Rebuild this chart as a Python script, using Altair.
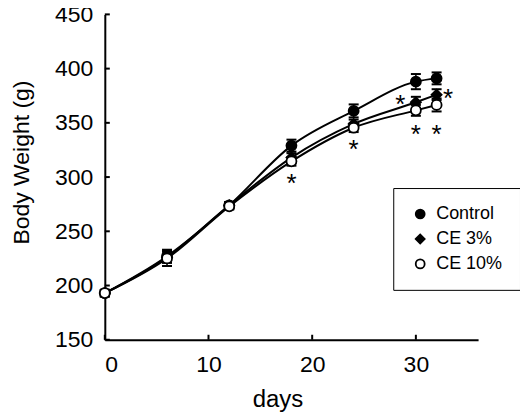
import altair as alt
import pandas as pd

# ---- data ----
days = [0, 6, 12, 18, 24, 30, 32]
series_names = ["Control", "CE 3%", "CE 10%"]
control = [193, 227, 274, 329, 361, 388, 391]
control_err = [3, 6, 3, 5.5, 6, 7, 5.5]
ce3 = [193, 226, 274, 318, 349, 369, 376]
ce3_err = [3, 5, 3, 4, 4, 5, 5]
ce10 = [193, 225, 273, 314.5, 345.5, 361.5, 366.5]
ce10_err = [3, 7, 3, 4, 4, 5, 6]

star_days = [18, 24, 28.5, 30, 32, 33.1]
star_weights = [300, 331, 373, 345, 345, 378]

ytick_vals = [150, 200, 250, 300, 350, 400, 450]
xtick_vals = [0, 10, 20, 30]

rows = []
for name, vals, errs in zip(series_names, [control, ce3, ce10], [control_err, ce3_err, ce10_err]):
    for d, v, e in zip(days, vals, errs):
        rows.append({"day": d, "series": name, "weight": v, "lo": v - e, "hi": v + e})
df = pd.DataFrame(rows)
stars = pd.DataFrame({"day": star_days, "weight": star_weights})
yt = pd.DataFrame({"tv": ytick_vals})
xt = pd.DataFrame({"tv": xtick_vals})

FONT = "Liberation Sans"
W, H = 374, 326

x_scale = alt.Scale(domain=[0, 36], nice=False, zero=False)
y_scale = alt.Scale(domain=[150, 450], nice=False, zero=False)

x_axis = alt.Axis(values=xtick_vals, ticks=False, grid=False, domainColor="black", domainWidth=2,
                  labelFontSize=23, labelFont=FONT, labelColor="black", labelPadding=14,
                  title="days", titleFontSize=24, titleFont=FONT, titleFontWeight="normal",
                  titleColor="black", titleX=173, titleY=67, titleBaseline="alphabetic",
                  titleAlign="center")
y_axis = alt.Axis(values=ytick_vals, ticks=False, grid=False, domainColor="black", domainWidth=2,
                  labelFontSize=23, labelFont=FONT, labelColor="black", labelPadding=12,
                  title="Body Weight (g)", titleFontSize=23, titleFont=FONT, titleFontWeight="normal",
                  titleColor="black", titleAngle=-90, titleX=-76, titleY=148,
                  titleBaseline="alphabetic", titleAlign="center")

base = alt.Chart(df).encode(
    x=alt.X("day:Q", scale=x_scale, axis=x_axis),
    y=alt.Y("weight:Q", scale=y_scale, axis=y_axis),
)

lines = base.mark_line(color="black", strokeWidth=2, interpolate="monotone").encode(detail="series:N")

err = alt.Chart(df).mark_rule(color="black", strokeWidth=1.5).encode(
    x=alt.X("day:Q", scale=x_scale), y=alt.Y("lo:Q", scale=y_scale), y2="hi:Q")
cap_hi = alt.Chart(df).mark_tick(orient="horizontal", size=10, thickness=2, color="black", opacity=1).encode(
    x=alt.X("day:Q", scale=x_scale), y=alt.Y("hi:Q", scale=y_scale))
cap_lo = alt.Chart(df).mark_tick(orient="horizontal", size=10, thickness=2, color="black", opacity=1).encode(
    x=alt.X("day:Q", scale=x_scale), y=alt.Y("lo:Q", scale=y_scale))

legend = alt.Legend(title=None, orient="none", legendX=289, legendY=174, strokeColor="black",
                    fillColor="white", padding=17, symbolOffset=1, labelOffset=7, labelFontSize=18,
                    labelFont=FONT, labelColor="black", rowPadding=7, symbolSize=80,
                    symbolStrokeWidth=1.8, labelExpr="datum.label + '   '")

points = base.mark_point(filled=False, size=100, strokeWidth=1.8, opacity=1).encode(
    shape=alt.Shape("series:N", scale=alt.Scale(domain=series_names, range=["circle", "diamond", "circle"]),
                    legend=legend),
    fill=alt.Fill("series:N", scale=alt.Scale(domain=series_names, range=["black", "black", "white"]),
                  legend=legend),
    stroke=alt.Stroke("series:N", scale=alt.Scale(domain=series_names, range=["black", "black", "black"]),
                      legend=legend),
)

asterisks = alt.Chart(stars).mark_text(text="*", fontSize=26, font=FONT, color="black",
                                       baseline="alphabetic", dy=15).encode(
    x=alt.X("day:Q", scale=x_scale), y=alt.Y("weight:Q", scale=y_scale))

ytick_layer = alt.Chart(yt).mark_rule(color="black", strokeWidth=2).encode(
    y=alt.Y("tv:Q", scale=y_scale), x=alt.value(0), x2=alt.value(5))
xtick_layer = alt.Chart(xt).mark_rule(color="black", strokeWidth=2).encode(
    x=alt.X("tv:Q", scale=x_scale), y=alt.value(H), y2=alt.value(H - 5))

chart = alt.layer(lines, err, cap_hi, cap_lo, points, asterisks, ytick_layer, xtick_layer).properties(
    width=W, height=H,
    autosize=alt.AutoSizeParams(type="none"),
    padding={"left": 97, "top": 6, "right": 42, "bottom": 75},
    background="white",
).configure_view(stroke=None)

chart.save("out.html", embed_options={"renderer": "svg", "actions": False})
